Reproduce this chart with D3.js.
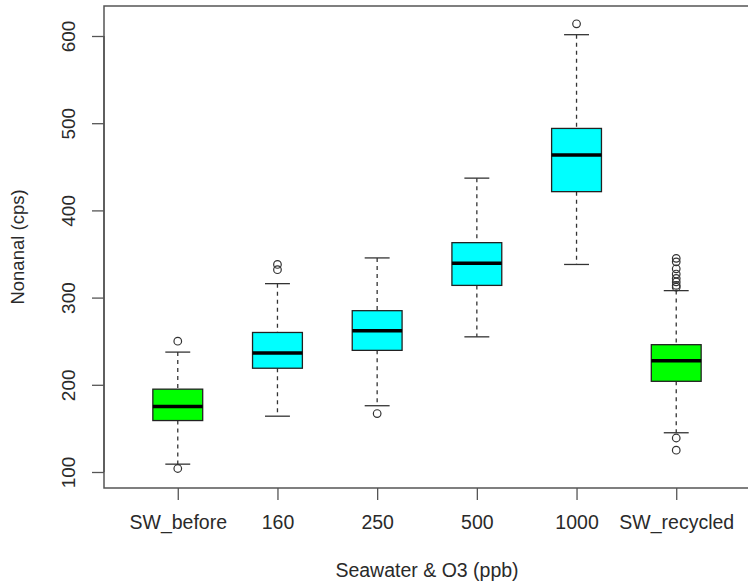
<!DOCTYPE html>
<html>
<head>
<meta charset="utf-8">
<script src="https://cdn.jsdelivr.net/npm/d3@7"></script>
<style>
  body { margin: 0; background: #fff; }
  text { font-family: Arial, "Liberation Sans", sans-serif; fill: #2a2a2a; }
</style>
</head>
<body>
<div id="chart"></div>
<script>
// box statistics
var categories = ["SW_before", "160", "250", "500", "1000", "SW_recycled"];
var whiskerLow  = [109, 164, 176, 255, 338, 145];
var q1          = [159, 219, 239.5, 314, 421.5, 204];
var median      = [175, 236.5, 262, 339.5, 463.5, 227.5];
var q3          = [195, 260, 285, 363, 494, 246];
var whiskerHigh = [237.5, 316, 345.5, 437, 601.5, 308];
var outliers = [
  [250, 104],
  [338, 332],
  [167],
  [],
  [614],
  [345, 341, 333, 327, 322, 318, 314, 312, 139, 125]
];
var yTicks = [100, 200, 300, 400, 500, 600];

// fill per group
var fills = {"SW_before": "#00ff00", "SW_recycled": "#00ff00"};
var defaultFill = "#00ffff";

var W = 748, H = 585;
var plot = {left: 104, right: 750, top: 6, bottom: 488};

var svg = d3.select("#chart").append("svg")
  .attr("width", W)
  .attr("height", H);

// R-style scales: x over group index, y with 4% padding
var x = d3.scaleLinear().domain([0.26, 6.74]).range([plot.left, plot.right]);
var y = d3.scaleLinear().domain([81.65, 634.4]).range([plot.bottom, plot.top]);

var boxW = x(1.25) - x(1);      // half box width (boxwex 0.5)
var capW = boxW / 2;

var data = categories.map(function(c, i) {
  return {name: c, pos: i + 1, lo: whiskerLow[i], q1: q1[i], med: median[i],
          q3: q3[i], hi: whiskerHigh[i], out: outliers[i]};
});

var g = svg.selectAll(".box").data(data).enter()
  .append("g").attr("class", "box");

// whiskers (dashed)
g.append("line")
  .attr("x1", function(d) { return x(d.pos); })
  .attr("x2", function(d) { return x(d.pos); })
  .attr("y1", function(d) { return y(d.hi); })
  .attr("y2", function(d) { return y(d.q3); })
  .attr("stroke", "#333").attr("stroke-width", 1.3)
  .attr("stroke-dasharray", "4,4");
g.append("line")
  .attr("x1", function(d) { return x(d.pos); })
  .attr("x2", function(d) { return x(d.pos); })
  .attr("y1", function(d) { return y(d.q1); })
  .attr("y2", function(d) { return y(d.lo); })
  .attr("stroke", "#333").attr("stroke-width", 1.3)
  .attr("stroke-dasharray", "4,4");

// caps
["hi", "lo"].forEach(function(k) {
  g.append("line")
    .attr("x1", function(d) { return x(d.pos) - capW; })
    .attr("x2", function(d) { return x(d.pos) + capW; })
    .attr("y1", function(d) { return y(d[k]); })
    .attr("y2", function(d) { return y(d[k]); })
    .attr("stroke", "#333").attr("stroke-width", 1.3);
});

// boxes
g.append("rect")
  .attr("x", function(d) { return x(d.pos) - boxW; })
  .attr("width", boxW * 2)
  .attr("y", function(d) { return y(d.q3); })
  .attr("height", function(d) { return y(d.q1) - y(d.q3); })
  .attr("fill", function(d) { return fills[d.name] || defaultFill; })
  .attr("stroke", "#222").attr("stroke-width", 1.3);

// medians
g.append("line")
  .attr("x1", function(d) { return x(d.pos) - boxW; })
  .attr("x2", function(d) { return x(d.pos) + boxW; })
  .attr("y1", function(d) { return y(d.med); })
  .attr("y2", function(d) { return y(d.med); })
  .attr("stroke", "#000").attr("stroke-width", 3.5);

// outliers
g.selectAll("circle")
  .data(function(d) { return d.out.map(function(v) { return {pos: d.pos, v: v}; }); })
  .enter().append("circle")
  .attr("cx", function(d) { return x(d.pos); })
  .attr("cy", function(d) { return y(d.v); })
  .attr("r", 3.8)
  .attr("fill", "none")
  .attr("stroke", "#333").attr("stroke-width", 1.2);

// frame
svg.append("rect")
  .attr("x", plot.left).attr("y", plot.top)
  .attr("width", plot.right - plot.left)
  .attr("height", plot.bottom - plot.top)
  .attr("fill", "none").attr("stroke", "#555").attr("stroke-width", 1.5);

// y axis
var yAxis = svg.append("g")
  .attr("transform", "translate(" + plot.left + ",0)")
  .call(d3.axisLeft(y).tickValues(yTicks).tickSize(12).tickFormat(d3.format("d")));
yAxis.select(".domain")
  .attr("d", "M0," + y(100) + "V" + y(600))
  .attr("stroke", "#555").attr("stroke-width", 1.5);
yAxis.selectAll(".tick line").attr("stroke", "#555").attr("stroke-width", 1.3);
yAxis.selectAll(".tick text")
  .attr("transform", "rotate(-90)")
  .attr("x", 0).attr("y", -29).attr("dy", 0)
  .attr("text-anchor", "middle")
  .style("font-size", "19px").style("font-family", "Arial, 'Liberation Sans', sans-serif")
  .attr("fill", "#2a2a2a");

// x axis
var xAxis = svg.append("g")
  .attr("transform", "translate(0," + plot.bottom + ")")
  .call(d3.axisBottom(x).tickValues(d3.range(1, categories.length + 1)).tickSize(12)
    .tickFormat(function(d) { return categories[d - 1]; }));
xAxis.select(".domain").remove();
xAxis.selectAll(".tick line").attr("stroke", "#555").attr("stroke-width", 1.3);
xAxis.selectAll(".tick text")
  .attr("y", 41).attr("dy", 0)
  .style("font-size", "19.5px").style("font-family", "Arial, 'Liberation Sans', sans-serif")
  .attr("fill", "#2a2a2a");

// axis titles
svg.append("text")
  .attr("x", (plot.left + plot.right) / 2)
  .attr("y", 577)
  .attr("text-anchor", "middle")
  .style("font-size", "19.5px")
  .text("Seawater & O3 (ppb)");

svg.append("text")
  .attr("transform", "translate(24," + ((plot.top + plot.bottom) / 2) + ") rotate(-90)")
  .attr("text-anchor", "middle")
  .style("font-size", "18.5px")
  .text("Nonanal (cps)");
</script>
</body>
</html>
